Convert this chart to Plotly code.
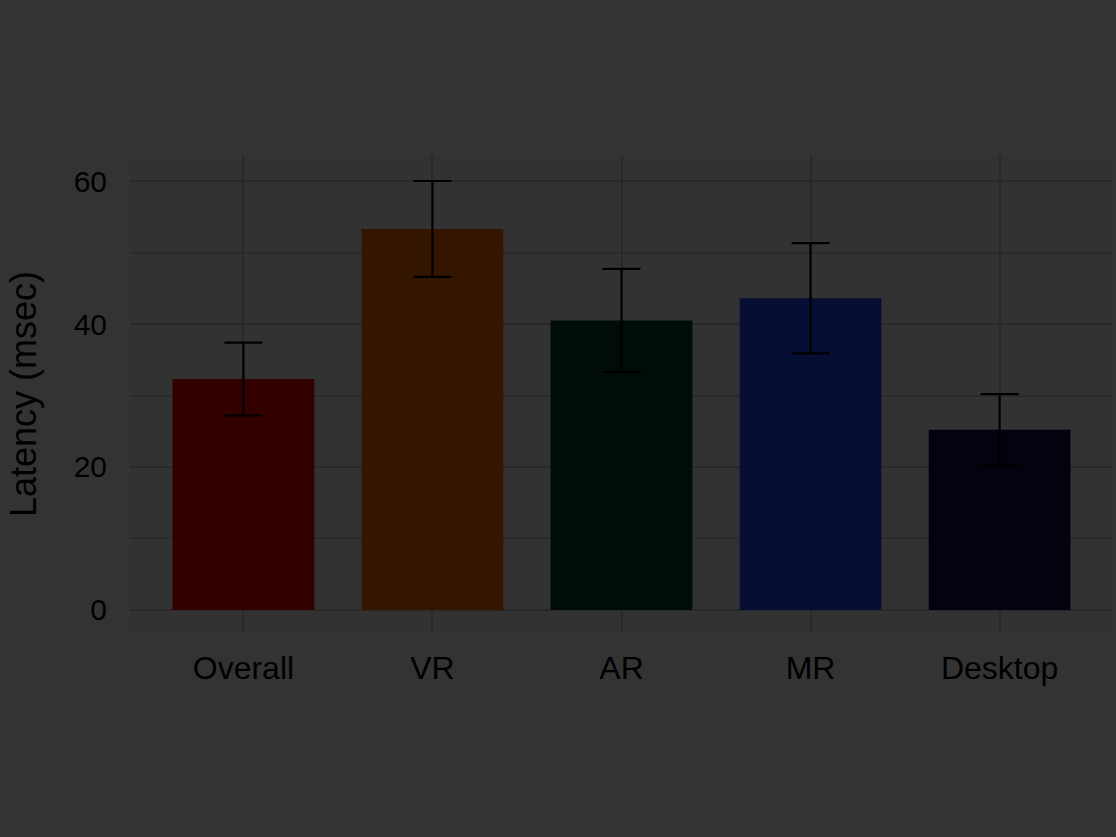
import plotly.graph_objects as go

categories = ["Overall", "VR", "AR", "MR", "Desktop"]
means = [32.3, 53.3, 40.5, 43.6, 25.2]
errors = [5.1, 6.7, 7.2, 7.7, 5.0]
bar_colors = ["#330000", "#331500", "#000d06", "#060f33", "#05020f"]
y_title = "Latency (msec)"
y_ticks = [0, 20, 40, 60]

fig = go.Figure()
fig.add_trace(go.Bar(
    x=categories, y=means,
    marker=dict(color=bar_colors, line=dict(width=0)),
    error_y=dict(type="data", array=errors, color="#000000", thickness=2.2, width=19),
    width=0.75,
    showlegend=False,
))

font_family = "Liberation Sans, Arial, sans-serif"
fig.update_layout(
    width=1116, height=837,
    margin=dict(l=130, r=3, t=156, b=205),
    paper_bgcolor="#333333",
    plot_bgcolor="#323232",
    font=dict(family=font_family, color="#000000", size=28),
    xaxis=dict(
        range=[-0.6, 4.6],
        showgrid=True, gridcolor="#292929", gridwidth=2,
        zeroline=False, showline=False,
        tickfont=dict(size=32, color="#000000"),
        ticklabelstandoff=14,
    ),
    yaxis=dict(
        range=[-3.08, 63.5],
        tickvals=y_ticks,
        showgrid=True, gridcolor="#292929", gridwidth=2,
        minor=dict(dtick=10, tick0=0, showgrid=True, gridcolor="#2b2b2b", gridwidth=1.5),
        zeroline=False, showline=False,
        tickfont=dict(size=30, color="#000000"),
        ticklabelstandoff=22,
        title=dict(text=y_title, font=dict(size=36, color="#000000"), standoff=26),
    ),
)

fig.write_html("out.html")
